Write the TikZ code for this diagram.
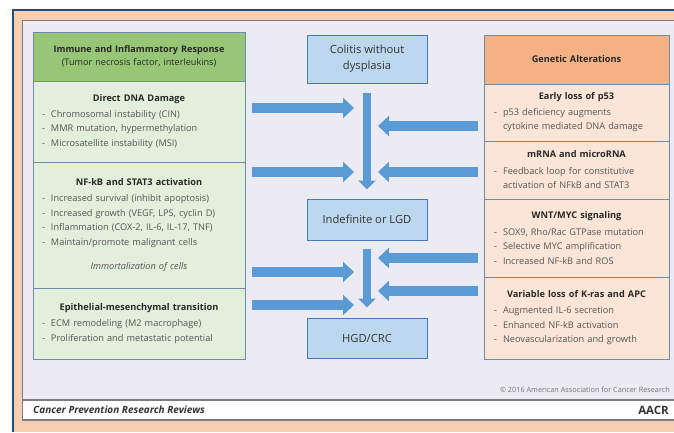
\documentclass[tikz,border=0pt]{standalone}
\usepackage{fontspec}
\setmainfont{Open Sans}
\usetikzlibrary{arrows.meta}
\definecolor{framepeach}{RGB}{248,206,178}
\definecolor{frameblue}{RGB}{31,78,121}
\definecolor{panelgray}{RGB}{236,235,243}
\definecolor{panelline}{RGB}{125,125,125}
\definecolor{headgreen}{RGB}{150,198,118}
\definecolor{lightgreen}{RGB}{226,239,218}
\definecolor{headorange}{RGB}{244,177,131}
\definecolor{lightpeach}{RGB}{251,229,214}
\definecolor{stageblue}{RGB}{189,215,238}
\definecolor{stageline}{RGB}{70,120,180}
\definecolor{boxline}{RGB}{110,140,170}
\definecolor{flowblue}{RGB}{91,155,213}
\definecolor{bodytext}{RGB}{85,85,85}
\definecolor{headtext}{RGB}{40,40,40}
\newcommand{\boxhead}[1]{\leavevmode\hfill{\bfseries\color{headtext}#1}\hfill\null}
\newcommand{\boxital}[1]{\leavevmode\hfill{\itshape #1}\hfill\null}
\newcommand{\listdash}{\makebox[9pt][l]{-}}
\newcommand{\listgap}{\hspace*{9pt}}
\begin{document}
\begin{tikzpicture}[x=1pt,y=-1pt]
		\tikzstyle{every node}+=[inner sep=0pt]
		\tikzstyle{greenbox}=[draw=boxline, fill=lightgreen, line width=0.8pt, minimum width=212pt, text width=194pt, align=left, text=bodytext, font=\fontsize{9.2}{14.5}\selectfont]
		\tikzstyle{peachbox}=[greenbox, fill=lightpeach, minimum width=185pt, text width=165pt]
		\tikzstyle{stagebox}=[draw=stageline, fill=stageblue, line width=1pt, minimum width=120pt, align=center, text=black!80, font=\fontsize{11.2}{16}\selectfont]
		\tikzstyle{flow}=[draw=flowblue, line width=9.5pt, -{Triangle[length=11pt,width=20pt]}]
		\tikzstyle{flowdown}=[draw=flowblue, line width=7.5pt, -{Triangle[length=9pt,width=17pt]}]
		\useasboundingbox (0,0) rectangle (674,432);
		\fill [white] (0,0) rectangle (674,432);
		\fill [framepeach] (13,10) rectangle (674,432);
		\draw [frameblue, line width=2pt] (13,432) -- (13,10) -- (674,10);
		\draw [panelline, line width=1.5pt, fill=panelgray] (22.5,20.5) rectangle (680,420);
		\draw [panelline, line width=1.5pt, fill=white] (22.5,400) rectangle (680,420);
		\node [greenbox, fill=headgreen, minimum height=49pt, align=center, text=headtext, font=\fontsize{9.1}{13}\selectfont] (immune) at (139,56.5) {\textbf{Immune and Inflammatory Response}\\(Tumor necrosis factor, interleukins)};
		\node [greenbox, minimum height=81pt] (dna) at (139,121.5) {\boxhead{Direct DNA Damage}\\[1pt] \listdash Chromosomal instability (CIN)\\ \listdash MMR mutation, hypermethylation\\ \listdash Microsatellite instability (MSI)};
		\node [greenbox, minimum height=126pt] (nfkb) at (139,225) {\boxhead{NF-kB and STAT3 activation}\\[2pt] \listdash Increased survival (inhibit apoptosis)\\ \listdash Increased growth (VEGF, LPS, cyclin D)\\ \listdash Inflammation (COX-2, IL-6, IL-17, TNF)\\ \listdash Maintain/promote malignant cells\\[10pt] \boxital{Immortalization of cells}};
		\node [greenbox, minimum height=71pt] (emt) at (139,323.5) {\boxhead{Epithelial-mesenchymal transition}\\[2pt] \listdash ECM remodeling (M2 macrophage)\\ \listdash Proliferation and metastatic potential};
		\node [peachbox, fill=headorange, minimum height=49pt, align=center, text=headtext] (genetic) at (576.5,59.5) {\textbf{Genetic Alterations}};
		\node [peachbox, minimum height=57pt] (p53) at (576.5,112.5) {\boxhead{Early loss of p53}\\[1pt] \listdash p53 deficiency augments\\ \listgap cytokine mediated DNA damage};
		\node [peachbox, minimum height=58pt] (mrna) at (576.5,170) {\boxhead{mRNA and microRNA}\\[2pt] \listdash Feedback loop for constitutive\\ \listgap activation of NFkB and STAT3};
		\node [peachbox, minimum height=78pt] (wnt) at (576.5,238) {\boxhead{WNT/MYC signaling}\\[2pt] \listdash SOX9, Rho/Rac GTPase mutation\\ \listdash Selective MYC amplification\\ \listdash Increased NF-kB and ROS};
		\node [peachbox, minimum height=82pt] (kras) at (576.5,318) {\boxhead{Variable loss of K-ras and APC}\\[1.5pt] \listdash Augmented IL-6 secretion\\ \listdash Enhanced NF-kB activation\\ \listdash Neovascularization and growth};
		\node [stagebox, minimum height=48pt] (colitis) at (367,59) {Colitis without\\dysplasia};
		\node [stagebox, minimum height=41pt] (indef) at (367,219.5) {Indefinite or LGD};
		\node [stagebox, minimum height=40pt] (hgd) at (367,338) {HGD/CRC};
		\coordinate (l1s) at (252,108);
		\coordinate (l1e) at (354,108);
		\coordinate (l2s) at (252,172);
		\coordinate (l2e) at (354,172);
		\coordinate (l3s) at (252,272);
		\coordinate (l3e) at (354,272);
		\coordinate (l4s) at (252,305);
		\coordinate (l4e) at (354,305);
		\coordinate (r1s) at (478,126);
		\coordinate (r1e) at (378,126);
		\coordinate (r2s) at (478,172);
		\coordinate (r2e) at (378,172);
		\coordinate (r3s) at (478,258);
		\coordinate (r3e) at (378,258);
		\coordinate (r4s) at (478,291);
		\coordinate (r4e) at (378,291);
		\draw [flowdown] ([yshift=-9pt]colitis.south) -- ([yshift=9pt]indef.north);
		\draw [flowdown] ([yshift=-8pt]indef.south) -- ([yshift=10pt]hgd.north);
		\draw [flow] (l1s) -- (l1e);
		\draw [flow] (l2s) -- (l2e);
		\draw [flow] (l3s) -- (l3e);
		\draw [flow] (l4s) -- (l4e);
		\draw [flow] (r1s) -- (r1e);
		\draw [flow] (r2s) -- (r2e);
		\draw [flow] (r3s) -- (r3e);
		\draw [flow] (r4s) -- (r4e);
		\node [anchor=east, font=\fontsize{7.3}{8}\selectfont, text=black!55] (copyright) at (670,390) {\textcopyright{} 2016 American Association for Cancer Research};
		\node [anchor=west, font=\fontsize{10}{11}\selectfont\bfseries\itshape, text=black!80] (journal) at (33,410) {Cancer Prevention Research Reviews};
		\node [anchor=east, font=\fontsize{11.5}{12}\selectfont\bfseries, text=black!80] (aacr) at (669,410) {AACR};
\end{tikzpicture}
\end{document}
